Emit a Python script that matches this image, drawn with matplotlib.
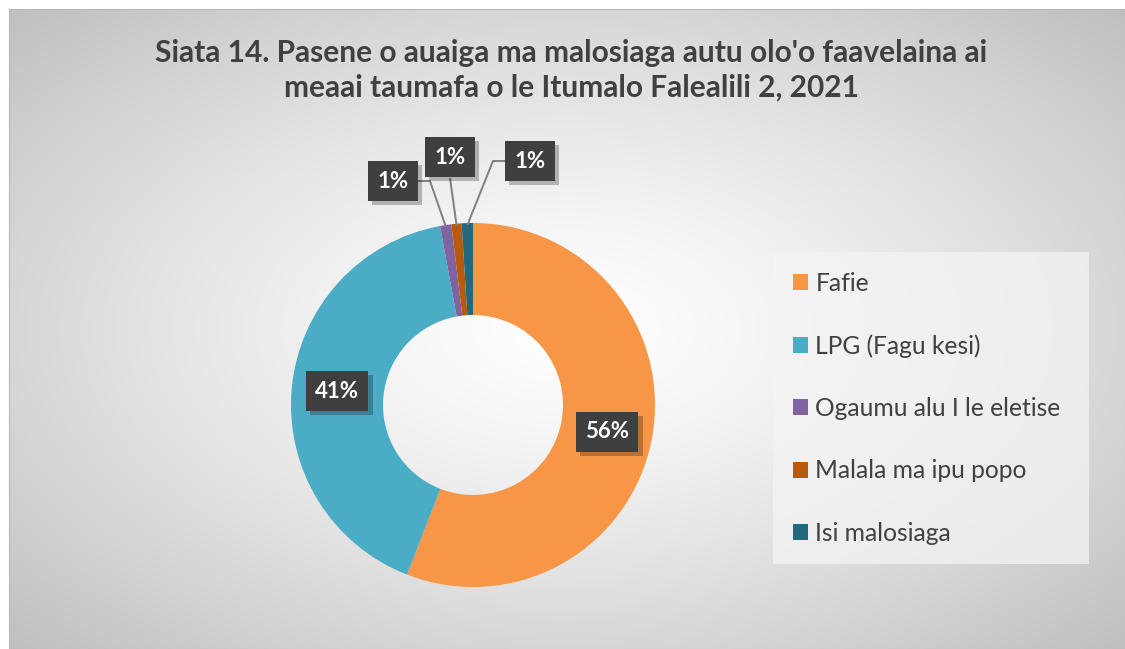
import numpy as np
import matplotlib.pyplot as plt
import matplotlib.patheffects as pe
from matplotlib.patches import Patch, Rectangle

plt.rcParams['font.family'] = ['Lato', 'DejaVu Sans']

### Data
labels = ['Fafie', 'LPG (Fagu kesi)', 'Ogaumu alu I le eletise',
          'Malala ma ipu popo', 'Isi malosiaga']
values = [55.9, 41.2, 1.0, 0.9, 1.0]
colors = ['#F79646', '#4BACC6', '#8064A2', '#B9590C', '#23697B']
title = "Siata 14. Pasene o auaiga ma malosiaga autu olo'o faavelaina ai\nmeaai taumafa o le Itumalo Falealili 2, 2021"

### Figure in pixel units (y up)
W, H = 1125, 649
fig = plt.figure(figsize=(W / 100, H / 100), dpi=100)
fig.patch.set_facecolor('white')
ax = fig.add_axes([0, 0, 1, 1])

def py(y):
  # image row -> data y
  return H - y

# radial gray background
x0, y0 = 9, 9
xs = np.arange(x0, W) + 0.5
ys = np.arange(y0, H) + 0.5
X, Y = np.meshgrid(xs, ys)
cx, cy = (x0 + W) / 2, (y0 + H) / 2
r = np.sqrt(((X - cx) / ((W - x0) / 2)) ** 2 + ((Y - cy) / ((H - y0) / 2)) ** 2)
g = 1 - 0.16 * r ** 1.3
bg = np.dstack([g, g, g])
ax.imshow(bg, extent=(x0, W, py(H), py(y0)), origin='upper', zorder=0,
          interpolation='bilinear')
ax.add_patch(Rectangle((x0, 0), W - x0, py(y0), fill=False,
                       edgecolor='#b8b8b8', lw=0.8, zorder=1))

### Donut
pcx, pcy, R = 473, py(405), 182
wedges, _ = ax.pie(values, colors=colors, startangle=90, counterclock=False,
                   center=(pcx, pcy), radius=R,
                   wedgeprops=dict(width=92, linewidth=0))
for w in wedges:
  w.set_zorder(2)

ax.set_xlim(0, W)
ax.set_ylim(0, H)
ax.set_aspect('auto')
ax.axis('off')

### Data labels
pcts = [f'{round(v):d}%' for v in values]
label_pos = [(607, 432), (337, 391), (393, 181), (450, 157), (530, 161)]

for (x, y), s in zip(label_pos, pcts):
  t = ax.text(x, py(y), s, fontsize=16, fontweight='bold', color='white',
              ha='center', va='center', zorder=5,
              bbox=dict(boxstyle='square,pad=0.42', fc='#3f3f3f', ec='none'))
  t.get_bbox_patch().set_path_effects(
    [pe.SimplePatchShadow(offset=(3, -3), shadow_rgbFace='black', alpha=0.25),
     pe.Normal()])

# leader lines to the small slices
cum = np.cumsum([0] + values)
mids = (cum[:-1] + cum[1:]) / 2 / cum[-1] * 360
def edge_pt(i):
  th = np.deg2rad(mids[i])
  return pcx + (R - 2) * np.sin(th), pcy + (R - 2) * np.cos(th)

leaders = {2: [(418, 181), (430, 181)],
           3: [(450, 178)],
           4: [(505, 161), (493, 161)]}
for i, pts in leaders.items():
  ex, ey = edge_pt(i)
  lx = [p[0] for p in pts] + [ex]
  ly = [py(p[1]) for p in pts] + [ey]
  ax.plot(lx, ly, color='#7f7f7f', lw=1.4, zorder=3, solid_capstyle='butt')

### Title
ax.text(571, py(70), title, ha='center', va='center', fontsize=21.5,
        fontweight='bold', color='#404040', linespacing=1.3, zorder=5)

### Legend
handles = [Patch(facecolor=c, edgecolor='none') for c in colors]
leg = ax.legend(handles, labels, loc='upper left',
                bbox_to_anchor=(773, py(252), 316, 0), bbox_transform=ax.transData,
                mode='expand', fontsize=17.7, frameon=True, fancybox=False,
                borderpad=0.8, labelspacing=1.6, handlelength=0.62,
                handleheight=0.62, handletextpad=0.3, borderaxespad=0)
leg._legend_box.set_offset  # keep default layout
leg.get_frame().set_facecolor('#f4f4f4')
leg.get_frame().set_alpha(0.75)
leg.get_frame().set_edgecolor('none')
for t in leg.get_texts():
  t.set_color('#404040')
leg.set_zorder(5)

fig.savefig('out.png', dpi=100)
